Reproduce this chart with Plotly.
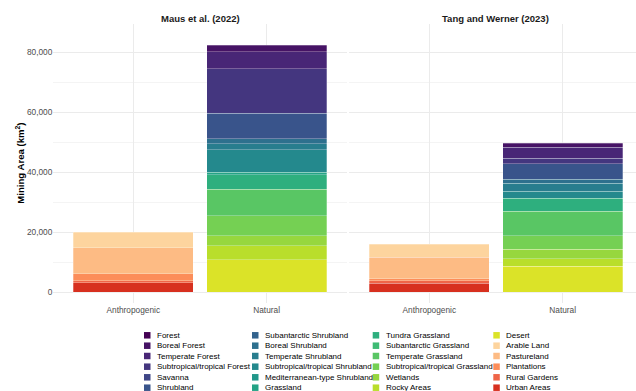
import plotly.graph_objects as go
from plotly.colors import sample_colorscale

# ---- data -------------------------------------------------------------
sources = ["Maus et al. (2022)", "Tang and Werner (2023)"]
land_types = ["Anthropogenic", "Natural"]

natural_classes = [
    "Forest", "Boreal Forest", "Temperate Forest", "Subtropical/tropical Forest",
    "Savanna", "Shrubland", "Subantarctic Shrubland", "Boreal Shrubland",
    "Temperate Shrubland", "Subtropical/tropical Shrubland",
    "Mediterranean-type Shrubland", "Grassland", "Tundra Grassland",
    "Subantarctic Grassland", "Temperate Grassland",
    "Subtropical/tropical Grassland", "Wetlands", "Rocky Areas", "Desert",
]
anthropogenic_classes = ["Arable Land", "Pastureland", "Plantations",
                         "Rural Gardens", "Urban Areas"]

# mining area (km²) per habitat class, natural land
maus_natural = [0, 2230, 5670, 14770, 0, 8570, 0, 1670, 2000, 7430, 0, 900,
                4770, 0, 8800, 6670, 3430, 4670, 10770]
tang_natural = [0, 1230, 3660, 1900, 0, 5100, 0, 1330, 2770, 2330, 0, 0,
                4230, 0, 8230, 4430, 3230, 2530, 8670]

# mining area (km²) per habitat class, anthropogenic land
maus_anthropogenic = [5130, 8770, 2330, 570, 3200]
tang_anthropogenic = [4330, 7230, 670, 770, 3000]

y_ticks = [0, 20000, 40000, 60000, 80000]

# ---- colours ----------------------------------------------------------
natural_colors = sample_colorscale("Viridis", [i / 19 for i in range(19)])
anthropogenic_colors = ["#FDD49E", "#FDBB84", "#FC8D59", "#EF6548", "#D7301F"]
color_of = dict(zip(natural_classes, natural_colors))
color_of.update(zip(anthropogenic_classes, anthropogenic_colors))

W, H = 636, 391
FONT = "Liberation Sans, Arial, sans-serif"


def px_x(v):
    return v / W


def px_y(v):
    return 1 - v / H


fig = go.Figure()

panels = [
    ("x", "y", maus_natural, maus_anthropogenic),
    ("x2", "y2", tang_natural, tang_anthropogenic),
]

outline = dict(color="rgba(255,255,255,0.55)", width=0.5)

for xa, ya, nat, anth in panels:
    # plotly stacks upward in trace order: add bottom-most class first
    for cls, val in reversed(list(zip(anthropogenic_classes, anth))):
        fig.add_trace(go.Bar(
            x=[land_types[0]], y=[val], name=cls, xaxis=xa, yaxis=ya,
            marker=dict(color=color_of[cls], line=outline),
            width=0.9, showlegend=False,
            hovertemplate=cls + ": %{y:,} km²<extra></extra>"))
    for cls, val in reversed(list(zip(natural_classes, nat))):
        if val <= 0:
            continue
        fig.add_trace(go.Bar(
            x=[land_types[1]], y=[val], name=cls, xaxis=xa, yaxis=ya,
            marker=dict(color=color_of[cls], line=outline),
            width=0.9, showlegend=False,
            hovertemplate=cls + ": %{y:,} km²<extra></extra>"))

y_dom = [px_y(303.3), px_y(24)]
y_range = [-3670, 89430]
grid = "#ebebeb"
tickfont = dict(family=FONT, size=8.3, color="#4d4d4d")

common_x = dict(type="category", categoryorder="array", categoryarray=land_types,
                showgrid=True, gridcolor=grid, gridwidth=0.8, zeroline=False,
                showline=False, ticks="", tickfont=tickfont)
common_y = dict(range=y_range, domain=y_dom, tickvals=y_ticks, tickformat=",d",
                showgrid=True, gridcolor=grid, gridwidth=0.8, zeroline=False,
                showline=False, ticks="", tickfont=tickfont,
                minor=dict(dtick=10000, tick0=0, showgrid=True,
                           gridcolor="#f4f4f4", gridwidth=0.6))

fig.update_layout(
    width=W, height=H, margin=dict(l=0, r=0, t=0, b=0),
    paper_bgcolor="white", plot_bgcolor="white",
    barmode="stack", bargap=0.1,
    font=dict(family=FONT, color="#1a1a1a"),
    xaxis=dict(common_x, domain=[px_x(53.3), px_x(346.6)], range=[-0.6, 1.6],
               anchor="y"),
    xaxis2=dict(common_x, domain=[px_x(349.3), 1.0], range=[-0.6, 1.55],
                anchor="y2"),
    yaxis=dict(common_y, anchor="x"),
    yaxis2=dict(common_y, anchor="x2", matches="y", showticklabels=False),
)

# panel titles
for title, cx in zip(sources, [200, 495.5]):
    fig.add_annotation(text=title, x=px_x(cx), y=px_y(18), xref="paper",
                       yref="paper", showarrow=False, xanchor="center",
                       yanchor="middle",
                       font=dict(family=FONT, size=9.5, color="#1a1a1a",
                                 weight="bold"))

# y-axis title
fig.add_annotation(text="Mining Area (km<sup>2</sup>)", x=px_x(20),
                   y=px_y(163.7), xref="paper", yref="paper", showarrow=False,
                   textangle=-90, xanchor="center", yanchor="middle",
                   font=dict(family=FONT, size=9.6, color="#000000",
                             weight="bold"))

# legend: four columns of six entries
legend_items = natural_classes + anthropogenic_classes
col_key_x = [144, 252, 372.7, 493.3]
row_y = [335.3, 345.7, 356.0, 366.7, 377.3, 387.7]
key = 6.5
for i, cls in enumerate(legend_items):
    c, r = divmod(i, 6)
    kx, ky = col_key_x[c], row_y[r]
    fig.add_shape(type="rect", xref="paper", yref="paper",
                  x0=px_x(kx), x1=px_x(kx + key),
                  y0=px_y(ky + key / 2), y1=px_y(ky - key / 2),
                  fillcolor=color_of[cls], line=dict(width=0))
    fig.add_annotation(text=cls, x=px_x(kx + key + 4.6), y=px_y(ky),
                       xref="paper", yref="paper", showarrow=False,
                       xanchor="left", yanchor="middle",
                       font=dict(family=FONT, size=8, color="#000000"))

fig.write_html("out.html")
